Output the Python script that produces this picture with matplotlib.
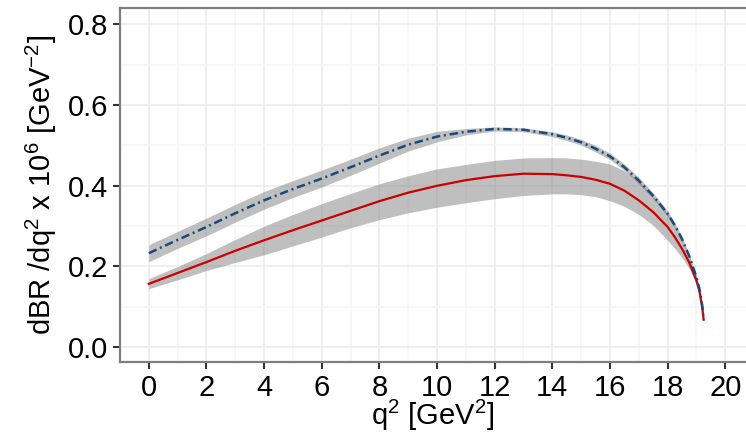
import numpy as np
import matplotlib
matplotlib.use("Agg")
from matplotlib import pyplot as plt
from matplotlib.ticker import MultipleLocator

plt.rcParams['font.family'] = ['Liberation Sans', 'DejaVu Sans']
plt.rcParams['mathtext.fontset'] = 'custom'
plt.rcParams['mathtext.rm'] = 'Liberation Sans'
plt.rcParams['mathtext.default'] = 'rm'

# q^2 points (GeV^2)
q2 = [0, 1, 2, 3, 4, 5, 6, 7, 8, 9, 10, 11, 12, 13, 14, 14.5, 15, 15.5, 16, 16.5, 17, 17.5,
      18, 18.25, 18.5, 18.75, 19, 19.1, 19.2, 19.25]

# red curve (solid) with its band
red_mid = [0.157, 0.184, 0.211, 0.239, 0.265, 0.290, 0.314, 0.338, 0.362, 0.383, 0.400, 0.414, 0.424,
           0.430, 0.429, 0.426, 0.422, 0.415, 0.405, 0.388, 0.364, 0.335, 0.298, 0.273, 0.244, 0.210,
           0.165, 0.140, 0.100, 0.068]
red_lo = [0.145, 0.167, 0.190, 0.210, 0.229, 0.251, 0.273, 0.296, 0.316, 0.333, 0.347, 0.358, 0.368,
          0.376, 0.380, 0.380, 0.378, 0.373, 0.363, 0.349, 0.329, 0.302, 0.265, 0.245, 0.222, 0.195,
          0.157, 0.135, 0.098, 0.066]
red_hi = [0.170, 0.200, 0.232, 0.267, 0.300, 0.329, 0.356, 0.381, 0.405, 0.425, 0.442, 0.453, 0.463,
          0.469, 0.470, 0.469, 0.466, 0.461, 0.454, 0.437, 0.413, 0.373, 0.331, 0.300, 0.266, 0.225,
          0.174, 0.145, 0.102, 0.070]

# blue curve (dash-dot) with its band
blue_mid = [0.233, 0.266, 0.298, 0.332, 0.364, 0.392, 0.418, 0.446, 0.475, 0.502, 0.522, 0.534, 0.541,
            0.539, 0.528, 0.519, 0.508, 0.492, 0.473, 0.446, 0.413, 0.375, 0.331, 0.302, 0.268, 0.226,
            0.174, 0.146, 0.104, 0.068]
blue_lo = [0.212, 0.245, 0.276, 0.310, 0.342, 0.371, 0.397, 0.426, 0.456, 0.486, 0.509, 0.526, 0.536,
           0.534, 0.522, 0.512, 0.501, 0.484, 0.465, 0.438, 0.405, 0.368, 0.324, 0.296, 0.263, 0.222,
           0.171, 0.144, 0.103, 0.067]
blue_hi = [0.254, 0.287, 0.320, 0.354, 0.386, 0.413, 0.439, 0.466, 0.494, 0.518, 0.535, 0.542, 0.546,
           0.544, 0.534, 0.526, 0.515, 0.500, 0.481, 0.454, 0.421, 0.382, 0.338, 0.308, 0.273, 0.230,
           0.177, 0.148, 0.105, 0.069]

fig = plt.figure(figsize=(7.46, 4.34), dpi=100)
ax = fig.add_axes([120/746, (434-361.7)/434, 1 - 120/746, (361.7-8.3)/434])

ax.fill_between(q2, blue_lo, blue_hi, color='#737373', alpha=0.45, lw=0, zorder=2)
ax.fill_between(q2, red_lo, red_hi, color='#737373', alpha=0.45, lw=0, zorder=2)
ax.plot(q2, blue_mid, color='#1b4a7a', lw=1.8, linestyle=(0, (3.4, 1.5, 0.8, 1.5)), zorder=4)
ax.plot(q2, red_mid, color='#cc0000', lw=1.6, zorder=3)

ax.set_xlim(-1.0, 20.72)
ax.set_ylim(-0.036, 0.84)
ax.xaxis.set_major_locator(MultipleLocator(2))
ax.xaxis.set_minor_locator(MultipleLocator(1))
ax.yaxis.set_major_locator(MultipleLocator(0.2))
ax.yaxis.set_minor_locator(MultipleLocator(0.1))
ax.set_yticks([0, 0.2, 0.4, 0.6, 0.8])
ax.set_yticklabels(['0.0', '0.2', '0.4', '0.6', '0.8'])

ax.grid(which='major', color='#ebebeb', lw=1.1, zorder=0)
ax.grid(which='minor', color='#f5f5f5', lw=1.1, zorder=0)
ax.set_axisbelow(True)

for s in ['left', 'bottom', 'top']:
    ax.spines[s].set_color('#7f7f7f')
    ax.spines[s].set_linewidth(1.6)
ax.spines['right'].set_visible(False)

ax.tick_params(which='major', length=4.8, width=1.5, color='#333333', labelsize=21,
               labelcolor='black', pad=4)
ax.tick_params(which='minor', length=0)

ax.set_xlabel('q$^2$ [GeV$^2$]', fontsize=21, labelpad=-3)
ax.set_ylabel('dBR /dq$^2$ x 10$^6$ [GeV$^{-2}$]', fontsize=21, labelpad=6)

fig.savefig('out.png', dpi=100)
